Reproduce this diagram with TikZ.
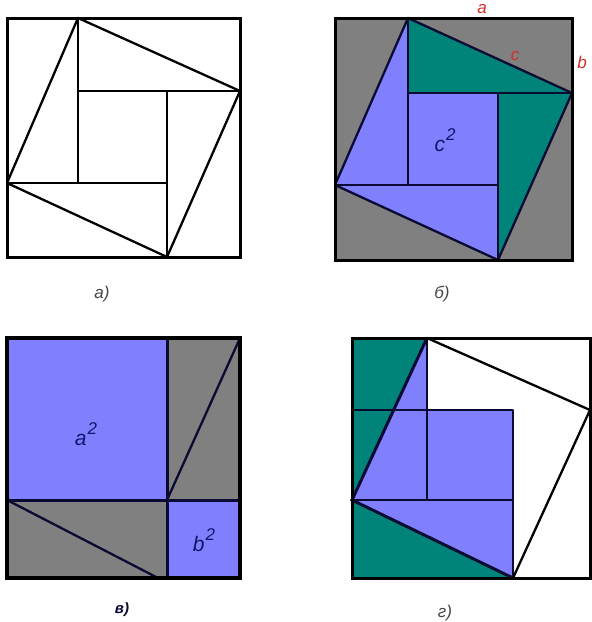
\documentclass[tikz,border=0pt]{standalone}
\usepackage{fontspec}
\setmainfont{Liberation Sans}
\definecolor{pgray}{RGB}{128,128,128}
\definecolor{pteal}{RGB}{0,132,122}
\definecolor{pblue}{RGB}{128,128,255}
\definecolor{pnavy}{RGB}{10,10,50}
\definecolor{pred}{RGB}{215,45,40}
\definecolor{pcap}{RGB}{70,70,70}
\definecolor{plab}{RGB}{20,20,110}
\newcommand{\sqlab}[2]{#1\hspace{1pt}\raisebox{0.5em}{\fontsize{17}{17}\selectfont #2}}
\begin{document}
\begin{tikzpicture}[x=1pt,y=-1pt,
  frame/.style={line width=3pt,line join=miter},
  linework/.style={line width=2.3pt,line join=round,line cap=round},
  captxt/.style={font=\itshape\fontsize{17}{17}\selectfont,text=pcap},
  sqtxt/.style={font=\itshape\fontsize{21}{21}\selectfont,text=plab},
  redtxt/.style={font=\itshape\fontsize{17}{17}\selectfont,text=pred,inner sep=0pt}]
\useasboundingbox (0,0) rectangle (592,622);
% ---------- a)
\coordinate (aT) at (78,18); \coordinate (aR) at (240,91);
\coordinate (aB) at (167,257); \coordinate (aL) at (7,183);
\draw[linework] (aT) -- (78,183) (aR) -- (78,91) (aB) -- (167,91) (aL) -- (167,183);
\draw[linework] (aT) -- (aR) -- (aB) -- (aL) -- cycle;
\draw[frame] (7,18) rectangle (240,257);
\node[captxt] (capa) at (102,294) {а)};
% ---------- b)
\coordinate (bT) at (408,18); \coordinate (bR) at (572,93);
\coordinate (bB) at (498,260); \coordinate (bL) at (335,185);
\coordinate (b1) at (408,93); \coordinate (b2) at (498,93);
\coordinate (b3) at (498,185); \coordinate (b4) at (408,185);
\fill[pgray] (335,18) rectangle (572,260);
\fill[pteal] (bT) -- (bR) -- (b1) -- cycle;
\fill[pteal] (bR) -- (bB) -- (b2) -- cycle;
\fill[pblue] (bL) -- (bT) -- (b4) -- cycle;
\fill[pblue] (bB) -- (bL) -- (b3) -- cycle;
\fill[pblue] (b1) rectangle (b3);
\draw[linework,pnavy] (bT) -- (b4) (bR) -- (b1) (bB) -- (b2) (bL) -- (b3);
\draw[linework,pnavy] (bT) -- (bR) -- (bB) -- (bL) -- cycle;
\draw[frame] (335,18) rectangle (572,260);
\node[sqtxt] (c2) at (445,140) {\sqlab{c}{2}};
\node[redtxt] (la) at (482,9) {a};
\node[redtxt] (lc) at (515,56) {c};
\node[redtxt] (lb) at (582,62) {b};
\node[captxt] (capb) at (442,294) {б)};
% ---------- v)
\fill[pblue] (7,338) rectangle (167,500);
\fill[pblue] (167,500) rectangle (240,578);
\fill[pgray] (167,338) rectangle (240,500);
\fill[pgray] (7,500) rectangle (167,578);
\draw[linework,pnavy] (167,500) -- (240,338);
\draw[linework,pnavy] (7,500) -- (158,578);
\draw[line width=3pt,pnavy] (7,500) -- (240,500) (167,338) -- (167,578);
\draw[line width=3.6pt] (7,338) rectangle (240,578);
\node[sqtxt] (a2) at (86,434) {\sqlab{a}{2}};
\node[sqtxt] (b2l) at (204,540) {\sqlab{b}{2}};
\node[captxt,font=\bfseries\itshape\fontsize{15}{15}\selectfont,text=pnavy] (capv) at (122,610) {в)};
% ---------- g)
\coordinate (gT) at (427,338); \coordinate (gR) at (590,410);
\coordinate (gB) at (513,578); \coordinate (gL) at (352,500);
\fill[pteal] (352,338) -- (gT) -- (gL) -- cycle;
\fill[pteal] (gL) -- (gB) -- (352,578) -- cycle;
\fill[pblue] (gL) -- (gT) -- (427,410) -- (513,410) -- (gB) -- cycle;
\draw[linework,pnavy] (352,410) -- (513,410) -- (gB) (352,500) -- (513,500) (gT) -- (427,500);
\draw[linework] (gT) -- (gR) -- (gB);
\draw[line width=3pt,pnavy] (gB) -- (gL) -- (gT);
\draw[frame] (352,338) rectangle (590,578);
\node[captxt] (capg) at (445,613) {г)};
\end{tikzpicture}
\end{document}
